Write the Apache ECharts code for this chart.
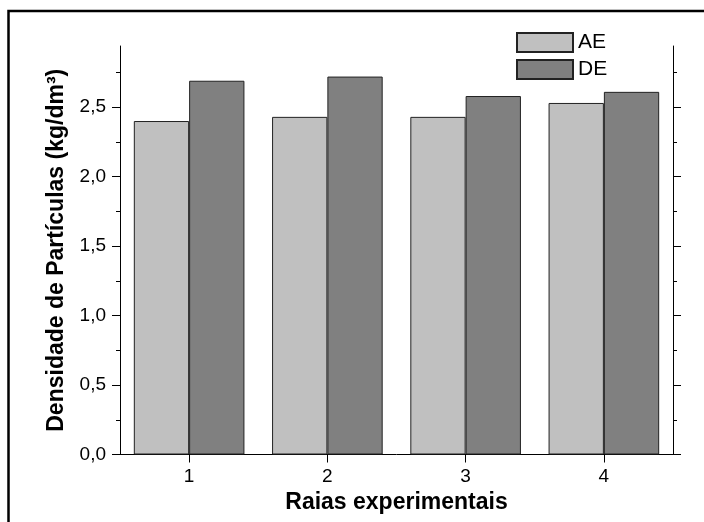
<!DOCTYPE html>
<html>
<head>
<meta charset="utf-8">
<script src="https://cdn.jsdelivr.net/npm/echarts@6/dist/echarts.min.js"></script>
<style>
html,body{margin:0;padding:0;background:#fff;}
#chart{width:704px;height:522px;}
</style>
</head>
<body>
<div id="chart"></div>
<script>
const categories = ['1', '2', '3', '4'];
const seriesNames = ['AE', 'DE'];
const aeValues = [2.40, 2.43, 2.43, 2.53];
const deValues = [2.69, 2.72, 2.58, 2.61];
const majorTicks = [0, 0.5, 1.0, 1.5, 2.0, 2.5];
const minorTicks = [0.25, 0.75, 1.25, 1.75, 2.25, 2.75];
const yMax = 2.94;

const font = 'Liberation Sans, Arial, sans-serif';
const fmt = v => v.toFixed(1).replace('.', ',');

function yAx(position, ticks, len, showLine, showLabel, extra) {
  return Object.assign({
    type: 'value', position: position, min: 0, max: yMax,
    splitLine: { show: false },
    axisLine: { show: showLine, lineStyle: { color: '#000', width: 1 } },
    axisTick: { show: true, inside: false, length: len, customValues: ticks, lineStyle: { color: '#000', width: 1 } },
    axisLabel: showLabel ? { show: true, customValues: ticks, formatter: fmt, color: '#000', fontSize: 19, fontFamily: font, margin: 14 } : { show: false },
    minorTick: { show: false }
  }, extra || {});
}

const chart = echarts.init(document.getElementById('chart'), null, { renderer: 'canvas' });
chart.setOption({
  animation: false,
  backgroundColor: '#fff',
  graphic: [{
    type: 'rect', silent: true,
    shape: { x: 8.5, y: 11, width: 1000, height: 1000 },
    style: { fill: 'none', stroke: '#000', lineWidth: 2.5 }
  }],
  grid: { left: 120, right: 31, top: 46, bottom: 67.5, containLabel: false },
  legend: {
    data: seriesNames, orient: 'vertical', left: 511, top: 27,
    itemWidth: 56, itemHeight: 19, itemGap: 6, icon: 'rect',
    textStyle: { color: '#000', fontSize: 21, fontFamily: font }
  },
  xAxis: {
    type: 'category', data: categories, boundaryGap: true,
    name: 'Raias experimentais', nameLocation: 'middle', nameGap: 32,
    nameTextStyle: { color: '#000', fontSize: 23, fontWeight: 'bold', fontFamily: font },
    axisLine: { show: true, lineStyle: { color: '#000', width: 1 } },
    axisTick: { show: true, alignWithLabel: true, length: 8, lineStyle: { color: '#000', width: 1 } },
    axisLabel: { color: '#000', fontSize: 19, fontFamily: font, margin: 13 },
    splitLine: { show: false }
  },
  yAxis: [
    yAx('left', majorTicks, 8, true, true, {
      name: 'Densidade de Partículas (kg/dm³)', nameLocation: 'middle', nameGap: 52,
      nameTextStyle: { color: '#000', fontSize: 23, fontWeight: 'bold', fontFamily: font }
    }),
    yAx('left', minorTicks, 4, false, false),
    yAx('right', majorTicks, 8, true, false),
    yAx('right', minorTicks, 4, false, false)
  ],
  series: [
    { name: seriesNames[0], type: 'bar', data: aeValues, yAxisIndex: 0,
      barGap: '0%', barCategoryGap: '20%',
      itemStyle: { color: '#c0c0c0', borderColor: '#222', borderWidth: 1 } },
    { name: seriesNames[1], type: 'bar', data: deValues, yAxisIndex: 0,
      barGap: '0%', barCategoryGap: '20%',
      itemStyle: { color: '#808080', borderColor: '#222', borderWidth: 1 } }
  ]
});
</script>
</body>
</html>
